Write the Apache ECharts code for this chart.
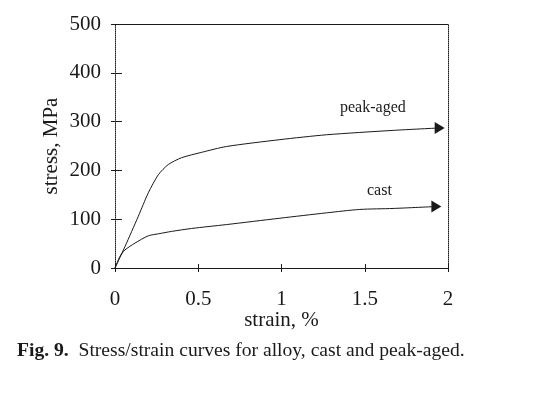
<!DOCTYPE html>
<html><head><meta charset="utf-8">
<script src="https://cdn.jsdelivr.net/npm/echarts@6/dist/echarts.min.js"></script>
<style>html,body{margin:0;padding:0;background:#fff}#c{width:544px;height:395px}</style>
</head><body><div id="c"></div>
<script>
var peakStrain = [0, 0.06, 0.14, 0.2, 0.26, 0.32, 0.4, 0.52, 0.67, 0.99, 1.27, 1.67, 1.95];
var peakStress = [0, 44, 106, 154, 191, 212, 226, 237, 249, 263, 273, 282, 287];
var castStrain = [0, 0.03, 0.06, 0.12, 0.2, 0.26, 0.34, 0.46, 0.67, 0.99, 1.27, 1.47, 1.67, 1.93];
var castStress = [0, 24, 37, 51, 66, 70, 75, 81, 89, 102, 113, 120, 122, 126];
var xTicks = [0, 0.5, 1, 1.5, 2];
var yTicks = [0, 100, 200, 300, 400, 500];
var seriesNames = ['peak-aged', 'cast'];

function build(xs, ys) {
  return xs.map(function (x, i) {
    var p = { value: [x, ys[i]] };
    if (i === xs.length - 1) { p.symbol = 'triangle'; p.symbolSize = [12, 10]; p.symbolRotate = -90; }
    return p;
  });
}
var font = 'Liberation Serif, DejaVu Serif, serif';
var ink = '#1a1a1a';
var xMin = xTicks[0], xMax = xTicks[xTicks.length - 1];
var yMin = yTicks[0], yMax = yTicks[yTicks.length - 1];
function xa(extra) {
  return Object.assign({ type: 'value', min: xMin, max: xMax, interval: xTicks[1] - xTicks[0], splitLine: { show: false } }, extra);
}
function ya(extra) {
  return Object.assign({ type: 'value', min: yMin, max: yMax, interval: yTicks[1] - yTicks[0], splitLine: { show: false } }, extra);
}
var chart = echarts.init(document.getElementById('c'));
chart.setOption({
  animation: false,
  backgroundColor: '#fff',
  grid: { left: 115, right: 96, top: 24, bottom: 127, show: false },
  xAxis: [
    xa({ position: 'bottom',
      name: 'strain, %', nameLocation: 'middle', nameGap: 42, nameMoveOverlap: false,
      nameTextStyle: { fontFamily: font, fontSize: 21, color: ink },
      axisLine: { onZero: false, lineStyle: { color: ink, width: 1 } },
      axisTick: { inside: true, length: 4, lineStyle: { color: ink } },
      axisLabel: { fontFamily: font, fontSize: 21, color: ink, margin: 21 } }),
    xa({ position: 'bottom', axisLine: { show: false, onZero: false },
      axisTick: { show: true, inside: false, length: 4, lineStyle: { color: ink } },
      axisLabel: { show: false } }),
    xa({ position: 'top', axisLine: { show: true, onZero: false, lineStyle: { color: ink, width: 1 } },
      axisTick: { show: false }, axisLabel: { show: false } })
  ],
  yAxis: [
    ya({ position: 'left',
      name: 'stress, MPa', nameLocation: 'middle', nameGap: 53, nameMoveOverlap: false,
      nameTextStyle: { fontFamily: font, fontSize: 21, color: ink },
      axisLine: { show: true, onZero: false, lineStyle: { color: ink, width: 1, type: 'dotted' } },
      axisTick: { inside: true, length: 7, lineStyle: { color: ink } },
      axisLabel: { fontFamily: font, fontSize: 21, color: ink, margin: 14 } }),
    ya({ position: 'left', axisLine: { show: false, onZero: false },
      axisTick: { show: true, inside: false, length: 4, lineStyle: { color: ink } },
      axisLabel: { show: false } }),
    ya({ position: 'right', axisLine: { show: true, onZero: false, lineStyle: { color: ink, width: 1, type: 'dotted' } },
      axisTick: { show: false }, axisLabel: { show: false } })
  ],
  series: [
    { name: seriesNames[0], type: 'line', data: build(peakStrain, peakStress), smooth: 0.25,
      xAxisIndex: 0, yAxisIndex: 0,
      showSymbol: true, symbol: 'none', lineStyle: { color: ink, width: 1 }, itemStyle: { color: ink } },
    { name: seriesNames[1], type: 'line', data: build(castStrain, castStress), smooth: 0.25,
      xAxisIndex: 0, yAxisIndex: 0,
      showSymbol: true, symbol: 'none', lineStyle: { color: ink, width: 1 }, itemStyle: { color: ink } }
  ],
  graphic: [
    { type: 'text', left: 340, top: 100, style: { text: seriesNames[0], font: '16px ' + font, fill: ink } },
    { type: 'text', left: 367, top: 183, style: { text: seriesNames[1], font: '16px ' + font, fill: ink } },
    { type: 'text', left: 17, top: 341, style: {
      text: '{b|Fig. 9.}  Stress/strain curves for alloy, cast and peak-aged.',
      font: '19.6px ' + font, fill: ink,
      rich: { b: { fontWeight: 'bold', fontFamily: font, fontSize: 19.6, fill: ink } } } }
  ]
});
</script></body></html>
